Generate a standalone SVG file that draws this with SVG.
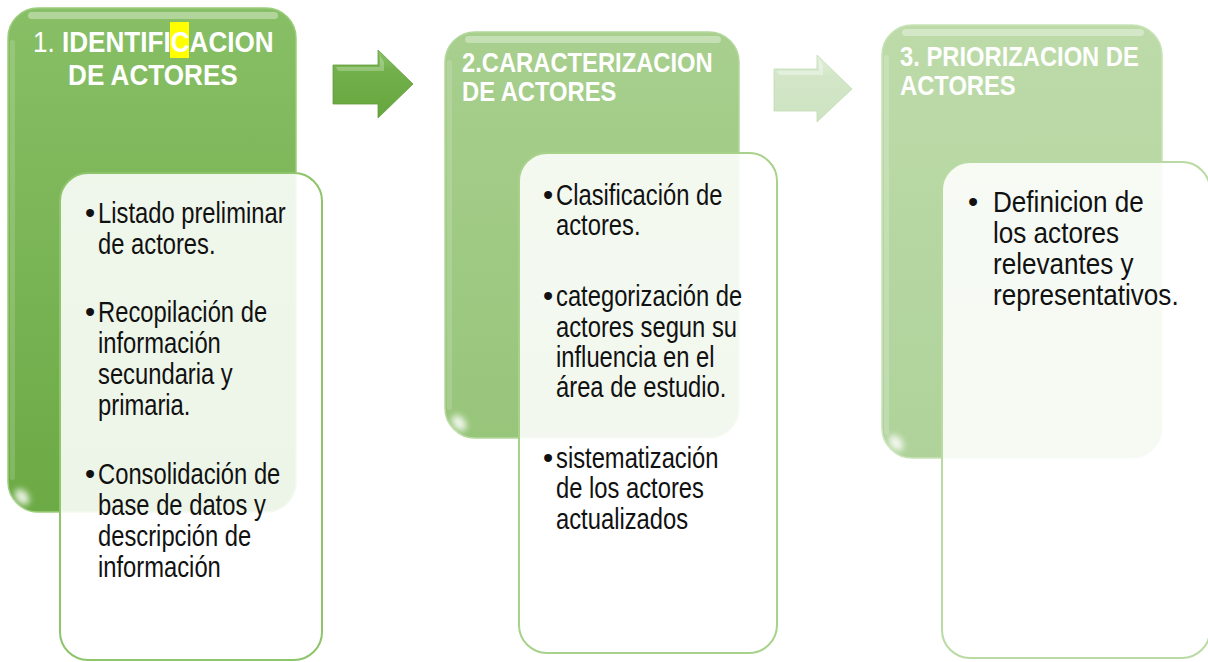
<svg xmlns="http://www.w3.org/2000/svg" width="1208" height="662" viewBox="0 0 1208 662">
<defs>
<linearGradient id="g1" x1="0" y1="0" x2="0" y2="1"><stop offset="0" stop-color="#88bf66"/><stop offset="1" stop-color="#6caa45"/></linearGradient>
<linearGradient id="g2" x1="0" y1="0" x2="0" y2="1"><stop offset="0" stop-color="#a8cf8e"/><stop offset="1" stop-color="#97c57a"/></linearGradient>
<linearGradient id="g3" x1="0" y1="0" x2="0" y2="1"><stop offset="0" stop-color="#bddba9"/><stop offset="1" stop-color="#afd29a"/></linearGradient>
<linearGradient id="a1" x1="0" y1="0" x2="0" y2="1"><stop offset="0" stop-color="#8cc46a"/><stop offset="0.3" stop-color="#72b04b"/><stop offset="1" stop-color="#66a63e"/></linearGradient>
<linearGradient id="a2" x1="0" y1="0" x2="0" y2="1"><stop offset="0" stop-color="#e3f0dc"/><stop offset="0.3" stop-color="#d3e7c8"/><stop offset="1" stop-color="#cde3c1"/></linearGradient>
<filter id="blur" x="-50%" y="-50%" width="200%" height="200%"><feGaussianBlur stdDeviation="3"/></filter>
<style>
.t{font-family:"Liberation Sans",Arial,sans-serif;font-size:29px;font-weight:bold;fill:#ffffff}
.t2{font-family:"Liberation Sans",Arial,sans-serif;font-size:27px;font-weight:bold;fill:#ffffff}
.tr{font-weight:normal}
.b{font-family:"Liberation Sans",Arial,sans-serif;font-size:29px;fill:#111111}
.inner{fill:#ffffff;fill-opacity:0.88}
.shine{fill:#ffffff;opacity:0.35}
.spot{fill:#ffffff;opacity:0.85;filter:url(#blur)}
</style>
</defs>

<g id="step1">
<rect x="8" y="8" width="288" height="504" rx="30" fill="url(#g1)" stroke="#9ccd7d" stroke-width="1.5"/>
<rect x="28" y="12" width="250" height="7" rx="3.5" class="shine"/>
<rect x="10" y="40" width="5" height="440" rx="2.5" fill="#ffffff" opacity="0.15"/>
<ellipse cx="22" cy="497" rx="6" ry="9" transform="rotate(-40 22 497)" class="spot"/>
<rect x="170" y="22" width="19" height="36" fill="#ffff00"/>
<g transform="translate(33,0) scale(0.9,1)">
<text class="t" y="52"><tspan class="tr" x="0">1. </tspan><tspan>IDENTIFI</tspan><tspan>C</tspan><tspan>ACION</tspan></text>
<text class="t" x="39" y="85">DE ACTORES</text>
</g>
</g>

<g id="step1-detail">
<rect x="60" y="173" width="262" height="487" rx="28" class="inner" stroke="#8ec46b" stroke-width="2"/>
<text class="b" x="85" y="223">•</text>
<text class="b" x="85" y="322">•</text>
<text class="b" x="85" y="484">•</text>
<g transform="translate(98,0) scale(0.82,1)">
<text class="b"><tspan x="0" y="223">Listado preliminar</tspan><tspan x="0" y="254">de actores.</tspan><tspan x="0" y="322">Recopilación de</tspan><tspan x="0" y="353">información</tspan><tspan x="0" y="384">secundaria y</tspan><tspan x="0" y="415">primaria.</tspan><tspan x="0" y="484">Consolidación de</tspan><tspan x="0" y="515">base de datos y</tspan><tspan x="0" y="546">descripción de</tspan><tspan x="0" y="577">información</tspan></text>
</g>
</g>

<g id="step2">
<rect x="445" y="32" width="294" height="406" rx="30" fill="url(#g2)" stroke="#b3d89b" stroke-width="1.5"/>
<rect x="465" y="36" width="256" height="7" rx="3.5" class="shine"/>
<rect x="447" y="60" width="5" height="350" rx="2.5" fill="#ffffff" opacity="0.15"/>
<ellipse cx="459" cy="423" rx="6" ry="9" transform="rotate(-40 459 423)" class="spot"/>
<g transform="translate(462,0) scale(0.88,1)">
<text class="t2"><tspan x="0" y="72">2.CARACTERIZACION</tspan><tspan x="0" y="101">DE ACTORES</tspan></text>
</g>
</g>

<g id="step2-detail">
<rect x="519" y="153" width="258" height="500" rx="28" class="inner" stroke="#a8d28c" stroke-width="2"/>
<text class="b" x="543" y="205">•</text>
<text class="b" x="543" y="306">•</text>
<text class="b" x="543" y="468">•</text>
<g transform="translate(556,0) scale(0.82,1)">
<text class="b"><tspan x="0" y="205">Clasificación de</tspan><tspan x="0" y="235">actores.</tspan><tspan x="0" y="306">categorización  de</tspan><tspan x="0" y="337">actores segun su</tspan><tspan x="0" y="367">influencia en el</tspan><tspan x="0" y="397">área de estudio.</tspan><tspan x="0" y="468">sistematización</tspan><tspan x="0" y="498">de los actores</tspan><tspan x="0" y="529">actualizados</tspan></text>
</g>
</g>

<g id="step3">
<rect x="882" y="25" width="280" height="433" rx="30" fill="url(#g3)" stroke="#c8e3b6" stroke-width="1.5"/>
<rect x="902" y="29" width="242" height="7" rx="3.5" class="shine"/>
<rect x="884" y="55" width="5" height="380" rx="2.5" fill="#ffffff" opacity="0.2"/>
<ellipse cx="896" cy="443" rx="6" ry="9" transform="rotate(-40 896 443)" class="spot"/>
<g transform="translate(900,0) scale(0.88,1)">
<text class="t2"><tspan x="0" y="66">3. PRIORIZACION DE</tspan><tspan x="0" y="95">ACTORES</tspan></text>
</g>
</g>

<g id="step3-detail">
<rect x="942" y="162" width="268" height="496" rx="28" class="inner" stroke="#b9dba3" stroke-width="2"/>
<text class="b" x="968" y="212">•</text>
<g transform="translate(993,0) scale(0.9,1)">
<text class="b"><tspan x="0" y="212">Definicion de</tspan><tspan x="0" y="243">los actores</tspan><tspan x="0" y="274">relevantes y</tspan><tspan x="0" y="305">representativos.</tspan></text>
</g>
</g>

<g id="connectors">
<polygon points="333,65 378,65 378,50 413,84 378,118 378,104 333,104" fill="url(#a1)" stroke="#5e9c38" stroke-width="0.8"/>
<polygon points="336,67 380,67 380,56 384,62 384,71 338,71" fill="#ffffff" opacity="0.25"/>
<polygon points="774,69 817,69 817,55 852,89 817,122 817,111 774,111" fill="url(#a2)" stroke="#c3dcb5" stroke-width="0.8"/>
<polygon points="777,71 819,71 819,60 823,66 823,75 779,75" fill="#ffffff" opacity="0.35"/>
</g>
</svg>
